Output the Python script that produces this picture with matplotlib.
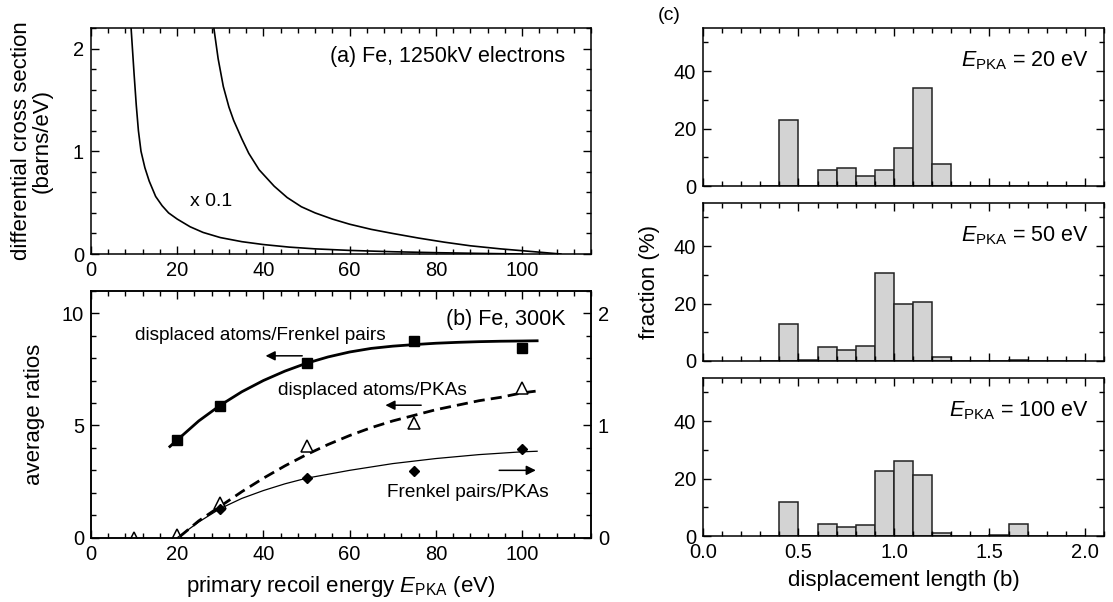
import numpy as np
import matplotlib
matplotlib.use("Agg")
import matplotlib.pyplot as plt
from matplotlib.ticker import MultipleLocator, FormatStrFormatter

plt.rcParams['font.family'] = ['Liberation Sans', 'DejaVu Sans']
plt.rcParams['mathtext.fontset'] = 'custom'
plt.rcParams['mathtext.rm'] = 'Liberation Sans'
plt.rcParams['mathtext.it'] = 'Liberation Sans:italic'
plt.rcParams['axes.linewidth'] = 1.1

# (a) differential cross section curves
ea_scaled = [9.3, 10.0, 10.5, 11.0, 11.6, 12.5, 13.5, 15.0, 16.5, 18.0, 20.0, 23.0, 26.0,
             30.0, 35.0, 40.0, 46.0, 52.0, 60.0, 70.0, 80.0, 90.0, 100.0]
sig_scaled = [2.2, 1.75, 1.45, 1.2, 1.0, 0.84, 0.71, 0.56, 0.47, 0.40, 0.34, 0.265, 0.21,
              0.16, 0.12, 0.092, 0.067, 0.05, 0.035, 0.022, 0.013, 0.006, 0.0]
ea_full = [28.5, 29.5, 30.7, 32.0, 33.1, 35.0, 36.6, 39.0, 42.5, 45.5, 48.8, 52.0, 56.0,
           60.0, 65.0, 70.0, 76.0, 82.0, 88.0, 95.0, 102.0, 109.0]
sig_full = [2.2, 1.9, 1.63, 1.43, 1.30, 1.12, 0.98, 0.82, 0.66, 0.55, 0.46, 0.40, 0.34,
            0.29, 0.24, 0.20, 0.155, 0.115, 0.08, 0.05, 0.025, 0.0]

# (b) simulation points
e_pts = [20, 30, 50, 75, 100]
da_fp = [4.35, 5.87, 7.77, 8.75, 8.45]             # displaced atoms / Frenkel pairs (left)
e_tri = [10, 20, 30, 50, 75, 100]
da_pka = [0.0, 0.1, 1.55, 4.1, 5.1, 6.65]          # displaced atoms / PKAs (left)
e_dia = [30, 50, 75, 100]
fp_pka = [0.256, 0.53, 0.59, 0.79]                 # Frenkel pairs / PKAs (right)

# (b) fitted curves
e_fit1 = [18.3, 20, 25, 30, 35, 40, 45, 50, 55, 60, 65, 70, 75, 80, 85, 90, 95, 100, 103.5]
da_fp_fit = [4.06, 4.35, 5.2, 5.9, 6.5, 7.0, 7.42, 7.77, 8.05, 8.27, 8.43, 8.53, 8.6,
             8.66, 8.7, 8.73, 8.75, 8.76, 8.77]
e_fit2 = [20.6, 25, 30, 35, 40, 45, 50, 55, 60, 65, 70, 75, 80, 85, 90, 95, 100, 104.2]
da_pka_fit = [0.05, 0.75, 1.4, 2.05, 2.65, 3.2, 3.7, 4.15, 4.55, 4.9, 5.2, 5.45, 5.7,
              5.9, 6.1, 6.25, 6.45, 6.55]
e_fit3 = [20, 25, 30, 35, 40, 45, 50, 60, 70, 80, 90, 100, 103.5]
fp_pka_fit = [0.0, 0.14, 0.26, 0.35, 0.42, 0.48, 0.53, 0.60, 0.66, 0.705, 0.74, 0.765, 0.77]

# (c) displacement length histograms, bins of 0.1 b
bin_left = [0.3, 0.4, 0.5, 0.6, 0.7, 0.8, 0.9, 1.0, 1.1, 1.2, 1.3, 1.4, 1.5, 1.6, 1.7, 1.8, 1.9]
frac_20 = [0, 23.1, 0, 5.65, 6.2, 3.6, 5.65, 13.1, 34.2, 7.8, 0, 0, 0, 0, 0, 0, 0]
frac_50 = [0, 12.8, 0.2, 4.7, 3.9, 5.1, 30.5, 19.8, 20.7, 1.5, 0, 0, 0.1, 0.3, 0, 0, 0]
frac_100 = [0.1, 11.8, 0.1, 4.3, 3.3, 3.9, 22.7, 26.2, 21.2, 1.15, 0.1, 0.1, 0.3, 4.1, 0.1, 0.15, 0.15]
hist_labels = ['20', '50', '100']

W, H = 1113, 602
TICK = 14.5
LAB = 16
fig = plt.figure(figsize=(W / 100, H / 100), dpi=100)


def box(l, t, r, b):
    return [l / W, 1 - b / H, (r - l) / W, (b - t) / H]


def style(ax, right=True):
    ax.tick_params(which='both', direction='in', top=True, right=right, labelsize=TICK,
                   width=1.0, pad=5)
    ax.tick_params(which='major', length=6)
    ax.tick_params(which='minor', length=3.5)


# ---- (a)
ax1 = fig.add_axes(box(91, 28, 591, 254))
ax1.plot(ea_scaled, sig_scaled, 'k', lw=1.2)
ax1.plot(ea_full, sig_full, 'k', lw=1.2)
ax1.set_xlim(0, 116)
ax1.set_ylim(0, 2.2)
ax1.xaxis.set_major_locator(MultipleLocator(20))
ax1.xaxis.set_minor_locator(MultipleLocator(4))
ax1.yaxis.set_major_locator(MultipleLocator(1))
ax1.yaxis.set_minor_locator(MultipleLocator(0.2))
style(ax1)
ax1.set_ylabel('differential cross section\n(barns/eV)', fontsize=LAB, linespacing=1.0)
ax1.yaxis.set_label_coords(-0.076, 0.5)
ax1.text(110, 1.92, '(a) Fe, 1250kV electrons', ha='right', va='center', fontsize=15.5)
ax1.text(23, 0.51, 'x 0.1', ha='left', va='center', fontsize=14)

# ---- (b)
ax2 = fig.add_axes(box(91, 290.7, 591, 537.7))
ax2.plot(e_fit1, da_fp_fit, 'k-', lw=2.0)
ax2.plot(e_fit2, da_pka_fit, 'k', lw=2.0, dashes=(4, 2.2))
ax2.plot(e_pts, da_fp, 'ks', ms=7)
ax2.plot(e_tri, da_pka, '^', mfc='white', mec='k', mew=1.1, ms=9)
ax2.set_xlim(0, 116)
ax2.set_ylim(0, 11)
ax2.xaxis.set_major_locator(MultipleLocator(20))
ax2.xaxis.set_minor_locator(MultipleLocator(4))
ax2.yaxis.set_major_locator(MultipleLocator(5))
ax2.yaxis.set_minor_locator(MultipleLocator(1))
style(ax2, right=False)
ax2.set_ylabel('average ratios', fontsize=LAB)
ax2.yaxis.set_label_coords(-0.092, 0.5)
ax2.set_xlabel(r'primary recoil energy $E_{\rm PKA}$ (eV)', fontsize=LAB)
ax2.xaxis.set_label_coords(0.5, -0.148)

ax3 = ax2.twinx()
ax3.plot(e_fit3, fp_pka_fit, 'k-', lw=0.9)
ax3.plot(e_dia, fp_pka, 'kD', ms=5.5)
ax3.set_ylim(0, 2.2)
ax3.yaxis.set_major_locator(MultipleLocator(1))
ax3.yaxis.set_minor_locator(MultipleLocator(0.2))
ax3.tick_params(which='both', direction='in', labelsize=TICK, width=1.0, pad=5)
ax3.tick_params(which='major', length=6)
ax3.tick_params(which='minor', length=3.5)

ax2.text(110, 9.7, '(b) Fe, 300K', ha='right', va='center', fontsize=15.5)
ax2.text(10.2, 9.0, 'displaced atoms/Frenkel pairs', ha='left', va='center', fontsize=13.7)
ax2.text(43.4, 6.55, 'displaced atoms/PKAs', ha='left', va='center', fontsize=13.7)
ax2.text(68.7, 2.0, 'Frenkel pairs/PKAs', ha='left', va='center', fontsize=13.7)
arrow = dict(arrowstyle='-|>', lw=1.1, color='k', mutation_scale=14, shrinkA=0, shrinkB=0)
ax2.annotate('', xy=(40.5, 8.1), xytext=(49, 8.1), arrowprops=arrow)
ax2.annotate('', xy=(68.3, 5.9), xytext=(76.6, 5.9), arrowprops=arrow)
ax2.annotate('', xy=(103.2, 3.0), xytext=(94.7, 3.0), arrowprops=arrow)

# ---- (c)
tops = [(28, 186), (203, 361), (378, 536)]
hists = [frac_20, frac_50, frac_100]
for i, (t, b) in enumerate(tops):
    ax = fig.add_axes(box(703, t, 1104, b))
    ax.bar(bin_left, hists[i], width=0.1, align='edge', color='#d3d3d3',
           edgecolor='#222222', lw=1.1)
    ax.set_xlim(0, 2.1)
    ax.set_ylim(0, 55)
    ax.xaxis.set_major_locator(MultipleLocator(0.5))
    ax.xaxis.set_minor_locator(MultipleLocator(0.1))
    ax.yaxis.set_major_locator(MultipleLocator(20))
    ax.yaxis.set_minor_locator(MultipleLocator(10))
    style(ax)
    ax.text(2.02, 43.5, r'$E_{\rm PKA}$ = ' + hist_labels[i] + ' eV', ha='right',
            va='center', fontsize=15.5)
    if i < 2:
        ax.tick_params(labelbottom=False)
    else:
        ax.xaxis.set_major_formatter(FormatStrFormatter('%.1f'))
        ax.set_xlabel('displacement length (b)', fontsize=LAB)
        ax.xaxis.set_label_coords(0.5, -0.215)
    if i == 1:
        ax.set_ylabel('fraction (%)', fontsize=LAB)
        ax.yaxis.set_label_coords(-0.107, 0.5)

fig.text(669 / W, 1 - 15 / H, '(c)', ha='center', va='center', fontsize=14)

fig.savefig('out.png', dpi=100)
